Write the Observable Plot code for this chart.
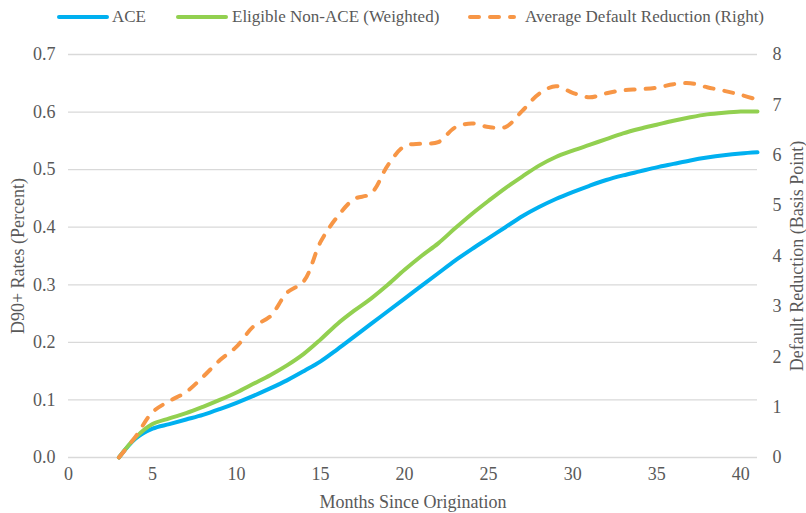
<!DOCTYPE html>
<html><head><meta charset="utf-8">
<script src="https://cdn.jsdelivr.net/npm/d3@7"></script>
<script src="https://cdn.jsdelivr.net/npm/@observablehq/plot@0.6"></script>
<style>
body{margin:0;background:#fff;font-family:"Liberation Serif","Times New Roman",serif;color:#595959;}
#wrap{position:relative;width:806px;height:513px;overflow:hidden;}
#legend{position:relative;height:36px;width:806px;}
.item{position:absolute;top:0;height:34px;display:flex;align-items:center;font-size:17px;white-space:nowrap;}
.sw{position:absolute;top:13px;}
svg text{font-family:"Liberation Serif","Times New Roman",serif;}
</style></head><body>
<div id="wrap"><div id="legend"></div><div id="chart"></div></div>
<script>
const months = [3,4,5,6,7,8,9,10,11,12,13,14,15,16,17,18,19,20,21,22,23,24,25,26,27,28,29,30,31,32,33,34,35,36,37,38,39,40,41];
const ace = [0,0.033,0.05,0.058,0.066,0.074,0.084,0.095,0.107,0.12,0.134,0.15,0.167,0.188,0.21,0.232,0.254,0.276,0.298,0.32,0.342,0.362,0.381,0.4,0.419,0.435,0.449,0.461,0.472,0.482,0.49,0.497,0.504,0.51,0.516,0.521,0.525,0.528,0.53];
const nonAce = [0,0.035,0.058,0.068,0.077,0.088,0.1,0.113,0.128,0.143,0.16,0.18,0.205,0.232,0.255,0.276,0.3,0.326,0.35,0.372,0.398,0.423,0.446,0.468,0.488,0.507,0.522,0.533,0.543,0.553,0.563,0.571,0.578,0.585,0.591,0.596,0.599,0.601,0.601];
const reduction = [0,0.42,0.9,1.12,1.3,1.6,1.93,2.2,2.6,2.8,3.27,3.5,4.28,4.78,5.13,5.24,5.8,6.18,6.23,6.26,6.55,6.63,6.56,6.56,6.88,7.22,7.37,7.24,7.15,7.23,7.29,7.31,7.34,7.41,7.43,7.35,7.28,7.2,7.1];
const xTicks = [0,5,10,15,20,25,30,35,40];
const yTicks = [0,0.1,0.2,0.3,0.4,0.5,0.6,0.7];
const rTicks = [0,1,2,3,4,5,6,7,8];
const seriesNames = ["ACE","Eligible Non-ACE (Weighted)","Average Default Reduction (Right)"];
const colors = ["#00B0F0","#92D050","#F79646"];

const k = 0.7/8;
const rows = months.map((m,i)=>({m, ace:ace[i], non:nonAce[i], red:reduction[i]*k}));
const font = "'Liberation Serif','Times New Roman',serif";

// legend
const leg = document.getElementById("legend");
const pos = [[59,112],[178,232],[470,525]];
seriesNames.forEach((n,i)=>{
  const sw = document.createElementNS("http://www.w3.org/2000/svg","svg");
  sw.setAttribute("class","sw");
  sw.setAttribute("width",52); sw.setAttribute("height",8);
  sw.style.left=(pos[i][0]-2)+"px";
  const dash = i===2 ? 'stroke-dasharray="9,11"' : '';
  const x2 = i===2 ? 46 : 50;
  sw.innerHTML = `<line x1="2" y1="4" x2="${x2}" y2="4" stroke="${colors[i]}" stroke-width="4" stroke-linecap="round" ${dash}/>`;
  leg.appendChild(sw);
  const t = document.createElement("div");
  t.className="item"; t.style.left=pos[i][1]+"px"; t.textContent=n;
  leg.appendChild(t);
});

const chart = Plot.plot({
  width:806, height:477,
  marginLeft:68, marginRight:49, marginTop:18, marginBottom:56,
  style:{fontFamily:font, fontSize:"18px", color:"#595959", background:"white", overflow:"visible"},
  x:{domain:[0,41], label:null},
  y:{domain:[0,0.7], label:null},
  marks:[
    Plot.gridY(yTicks, {stroke:"#d9d9d9", strokeOpacity:1, strokeWidth:1.3}),
    Plot.axisX(xTicks, {tickSize:0, tickPadding:10, label:null, fontSize:18}),
    Plot.axisY(yTicks, {tickSize:0, tickPadding:13, tickFormat:d=>d.toFixed(1), label:null, fontSize:18}),
    Plot.axisY(rTicks.map(t=>t*k), {anchor:"right", tickSize:0, tickPadding:15, tickFormat:d=>Math.round(d/k), label:null, fontSize:18}),
    Plot.text(["Months Since Origination"], {frameAnchor:"bottom", text:d=>d, dy:45, lineAnchor:"middle", textAnchor:"middle", fontSize:18, fill:"#595959"}),
    Plot.text(["D90+ Rates (Percent)"], {frameAnchor:"left", text:d=>d, dx:-50, rotate:-90, lineAnchor:"middle", textAnchor:"middle", fontSize:18, fill:"#595959"}),
    Plot.text(["Default Reduction (Basis Point)"], {frameAnchor:"right", text:d=>d, dx:40, rotate:-90, lineAnchor:"middle", textAnchor:"middle", fontSize:18, fill:"#595959"}),
    Plot.line(rows, {x:"m", y:"ace", stroke:colors[0], strokeWidth:4, strokeLinecap:"round", strokeLinejoin:"round", curve:"catmull-rom"}),
    Plot.line(rows, {x:"m", y:"non", stroke:colors[1], strokeWidth:4, strokeLinecap:"round", strokeLinejoin:"round", curve:"catmull-rom"}),
    Plot.line(rows, {x:"m", y:"red", stroke:colors[2], strokeWidth:4, strokeDasharray:"9,11", strokeLinecap:"round", strokeLinejoin:"round", curve:"catmull-rom"})
  ]
});
document.getElementById("chart").appendChild(chart);
</script>
</body></html>
